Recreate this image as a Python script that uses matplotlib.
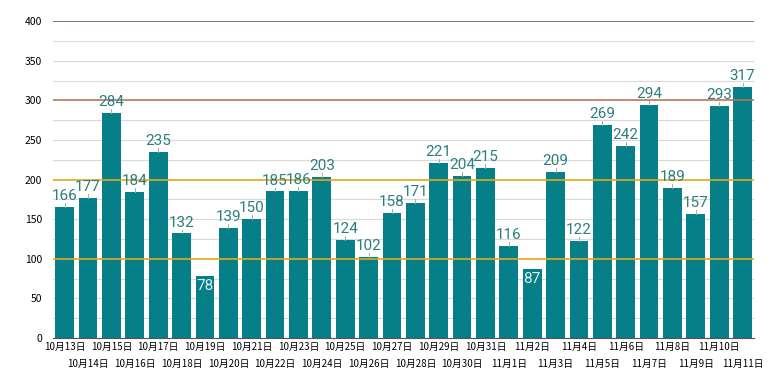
import numpy as np
import matplotlib.pyplot as plt

plt.rcParams['font.family'] = ['Noto Sans CJK SC', 'DejaVu Sans']

dates = ['10月13日', '10月14日', '10月15日', '10月16日', '10月17日', '10月18日',
         '10月19日', '10月20日', '10月21日', '10月22日', '10月23日', '10月24日',
         '10月25日', '10月26日', '10月27日', '10月28日', '10月29日', '10月30日',
         '10月31日', '11月1日', '11月2日', '11月3日', '11月4日', '11月5日',
         '11月6日', '11月7日', '11月8日', '11月9日', '11月10日', '11月11日']
values = [166, 177, 284, 184, 235, 132, 78, 139, 150, 185, 186, 203, 124, 102,
          158, 171, 221, 204, 215, 116, 87, 209, 122, 269, 242, 294, 189, 157,
          293, 317]
inside_labels = [78, 87]

bar_color = '#077f89'
label_color = '#2b7f7f'

fig = plt.figure(figsize=(7.8, 3.9), dpi=100)
ax = fig.add_axes([0.068, 0.133, 0.899, 0.813])

x = np.arange(len(values))

# grid
for y in range(25, 400, 25):
    if y % 100:
        ax.axhline(y, color='#d9d9d9', lw=0.8, zorder=0)
ax.axhline(100, color='#e3a81c', lw=1.2, zorder=3)
ax.axhline(200, color='#e3a81c', lw=1.2, zorder=3)
ax.axhline(300, color='#b87658', lw=1.2, zorder=3)
ax.axhline(400, color='#7e5548', lw=1.2, zorder=3)

ax.bar(x, values, width=0.8, color=bar_color, zorder=2)

for xi, v in zip(x, values):
    if v in inside_labels:
        ax.text(xi, v - 4, str(v), ha='center', va='top', color='#dff0f0',
                fontsize=11, family='Roboto', zorder=5)
    else:
        ax.plot([xi, xi], [v, v + 5], color='#aaaaaa', lw=0.7, zorder=4)
        ax.text(xi, v + 5, str(v), ha='center', va='bottom', color=label_color,
                fontsize=11, family='Roboto', zorder=5)

ax.set_xlim(-0.5, len(values) - 0.5)
ax.set_ylim(0, 400)
ax.set_yticks(range(0, 401, 50))

# alternate date labels on two rows
ax.set_xticks(x[::2])
ax.set_xticklabels(dates[::2], fontsize=7, fontweight='medium')
ax.set_xticks(x[1::2], minor=True)
ax.set_xticklabels(dates[1::2], minor=True, fontsize=7, fontweight='medium')
ax.tick_params(axis='x', which='major', length=0, pad=3)
ax.tick_params(axis='x', which='minor', length=0, pad=15)
ax.tick_params(axis='y', length=0, pad=8, labelsize=7.5)
for s in ['top', 'right', 'left']:
    ax.spines[s].set_visible(False)
ax.spines['bottom'].set_color('#555555')
ax.spines['bottom'].set_linewidth(0.8)

fig.savefig('out.png', dpi=100)
